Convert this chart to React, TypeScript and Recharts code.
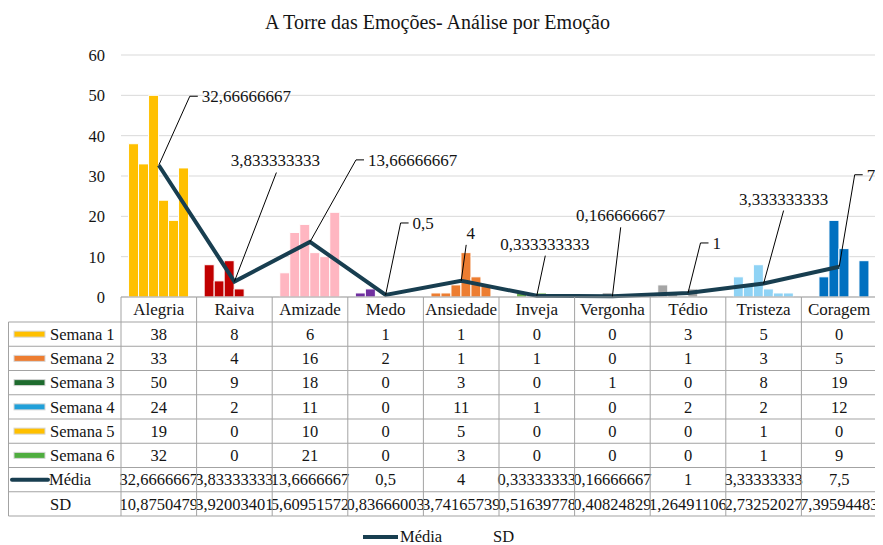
import React from 'react';
import {
  ComposedChart,
  Bar,
  Line,
  XAxis,
  YAxis,
  CartesianGrid,
  Cell,
  LabelList,
  Customized,
} from 'recharts';

// ---------- data ----------
const categories = ['Alegria', 'Raiva', 'Amizade', 'Medo', 'Ansiedade', 'Inveja', 'Vergonha', 'Tédio', 'Tristeza', 'Coragem'];
const semana1 = [38, 8, 6, 1, 1, 0, 0, 3, 5, 0];
const semana2 = [33, 4, 16, 2, 1, 1, 0, 1, 3, 5];
const semana3 = [50, 9, 18, 0, 3, 0, 1, 0, 8, 19];
const semana4 = [24, 2, 11, 0, 11, 1, 0, 2, 2, 12];
const semana5 = [19, 0, 10, 0, 5, 0, 0, 0, 1, 0];
const semana6 = [32, 0, 21, 0, 3, 0, 0, 0, 1, 9];
const media = [32.66666667, 3.833333333, 13.66666667, 0.5, 4, 0.333333333, 0.166666667, 1, 3.333333333, 7.5];
const sd = [10.8750479, 3.92003401, 5.60951572, 0.83666003, 3.74165739, 0.51639778, 0.40824829, 1.26491106, 2.73252027, 7.39594483];
const seriesNames = ['Semana 1', 'Semana 2', 'Semana 3', 'Semana 4', 'Semana 5', 'Semana 6'];
const yTicks = [0, 10, 20, 30, 40, 50, 60];
const titleText = 'A Torre das Emoções- Análise por Emoção';
const mediaName = 'Média';
const sdName = 'SD';

// ---------- styles ----------
const FONT = 'Liberation Serif, Times New Roman, DejaVu Serif, serif';
const TEXT = '#141414';
const BORDER = '#A3A3A3';
const categoryColors = ['#FFC000', '#C00000', '#FFB6C1', '#7030A0', '#ED7D31', '#6AB04C', '#7F7F7F', '#A5A5A5', '#8FD3F5', '#0070C0'];
const swatchColors = ['#FFC000', '#ED7D31', '#1E6B2E', '#21A0D9', '#FFC000', '#4FAD3F'];
const LINE_COLOR = '#183E50';
const txt = (size: number) => ({ fontFamily: FONT, fontSize: size, fill: TEXT });

// label layout: offsets of the label text from its point (px)
const labelLayout = [
  { side: true, tx: 43, ty: -69 },
  { side: false, tx: 41, ty: -121, ex: 1 },
  { side: true, tx: 58, ty: -82 },
  { side: true, tx: 27, ty: -72 },
  { side: false, tx: 9.5, ty: -48, ex: -4.5 },
  { side: false, tx: 8, ty: -52, ex: 0.5 },
  { side: false, tx: 8.3, ty: -81, ex: 0 },
  { side: true, tx: 24.5, ty: -50 },
  { side: false, tx: 20, ty: -85, ex: 0 },
  { side: true, tx: 27.5, ty: -92 },
];

const CHART_W = 875;
const CHART_H = 537;
const MARGIN = { top: 47, right: 6, left: 0, bottom: 28 };
const Y_AXIS_W = 113;
const X_AXIS_H = 220;
const PLOT_LEFT = MARGIN.left + Y_AXIS_W;
const PLOT_W = CHART_W - PLOT_LEFT - MARGIN.right;
const BAND = PLOT_W / categories.length;
const HEADER_H = 25;
const ROW_H = 24.25;

const seriesKeys = ['s1', 's2', 's3', 's4', 's5', 's6'];
const seriesArrays = [semana1, semana2, semana3, semana4, semana5, semana6];

const data = categories.map((cat, i) => ({
  cat,
  s1: semana1[i],
  s2: semana2[i],
  s3: semana3[i],
  s4: semana4[i],
  s5: semana5[i],
  s6: semana6[i],
  media: media[i],
  sd: sd[i],
}));

function fmt(v: number, chars: number): string {
  if (Number.isInteger(v)) return String(v);
  const intDigits = String(Math.floor(Math.abs(v))).length;
  const dec = Math.max(0, chars - intDigits - 1);
  let s = v.toFixed(dec);
  if (s.indexOf('.') >= 0) s = s.replace(/0+$/, '').replace(/\.$/, '');
  return s.replace('.', ',');
}

const renderMediaLabel = (props: any) => {
  const { x, y, value, index } = props;
  const L = labelLayout[index];
  if (!L || x == null || y == null) return null;
  const tx = x + L.tx;
  const ty = y + L.ty;
  const d = L.side
    ? `M${x},${y}L${tx - 12},${ty}L${tx - 4},${ty}`
    : `M${x},${y}L${tx + (L.ex || 0)},${ty + 12}`;
  return (
    <g>
      <path d={d} stroke="#000" strokeWidth={1} fill="none" />
      <text x={tx} y={ty} dy="0.35em" textAnchor={L.side ? 'start' : 'middle'} style={txt(17)}>
        {fmt(value, 11)}
      </text>
    </g>
  );
};

const TableColumn = (props: any) => {
  const { x, y, payload } = props;
  const i = payload && payload.index != null ? payload.index : props.index;
  const left = x - BAND / 2;
  const top = y;
  const values = [
    ...seriesArrays.map((arr) => String(arr[i])),
    fmt(media[i], 10),
    fmt(sd[i], 10),
  ];
  const rowsTop = top + HEADER_H;
  const bottom = rowsTop + ROW_H * values.length;
  const els: any[] = [];
  els.push(
    <text key="h" x={x} y={top + HEADER_H / 2} dy="0.35em" textAnchor="middle" style={txt(17)}>
      {payload.value}
    </text>
  );
  values.forEach((v, r) => {
    els.push(
      <text key={'v' + r} x={x} y={rowsTop + ROW_H * (r + 0.5)} dy="0.35em" textAnchor="middle" style={txt(16.5)}>
        {v}
      </text>
    );
  });
  els.push(<line key="bl" x1={left} x2={left} y1={top} y2={bottom} stroke={BORDER} strokeWidth={1} />);
  if (i === categories.length - 1) {
    els.push(<line key="br" x1={left + BAND} x2={left + BAND} y1={top} y2={bottom} stroke={BORDER} strokeWidth={1} />);
  }
  for (let r = 0; r <= values.length + 1; r++) {
    const yy = r === 0 ? top : rowsTop + ROW_H * (r - 1);
    els.push(<line key={'hl' + r} x1={left} x2={left + BAND} y1={yy} y2={yy} stroke={BORDER} strokeWidth={1} />);
  }

  if (i === 0) {
    const lx = 0.5;
    const rx = PLOT_LEFT;
    els.push(<line key="ll" x1={lx} x2={lx} y1={rowsTop} y2={bottom} stroke={BORDER} strokeWidth={1} />);
    for (let r = 0; r <= values.length; r++) {
      const yy = rowsTop + ROW_H * r;
      els.push(<line key={'lh' + r} x1={lx} x2={rx} y1={yy} y2={yy} stroke={BORDER} strokeWidth={1} />);
    }
    seriesNames.forEach((name, r) => {
      const cy = rowsTop + ROW_H * (r + 0.5);
      els.push(
        <rect key={'sw' + r} x={6} y={cy - 3} width={31} height={6} fill={swatchColors[r]} stroke="#D6D6D6" strokeWidth={1} />
      );
      els.push(
        <text key={'sn' + r} x={42} y={cy} dy="0.35em" style={txt(16.5)}>
          {name}
        </text>
      );
    });
    const my = rowsTop + ROW_H * 6.5;
    els.push(<line key="mline" x1={4} x2={40} y1={my} y2={my} stroke={LINE_COLOR} strokeWidth={4} strokeLinecap="round" />);
    els.push(
      <text key="mtext" x={41} y={my} dy="0.35em" style={txt(16.5)}>
        {mediaName}
      </text>
    );
    const sy = rowsTop + ROW_H * 7.5;
    els.push(
      <text key="sdtext" x={42} y={sy} dy="0.35em" style={txt(16.5)}>
        {sdName}
      </text>
    );
  }
  return <g>{els}</g>;
};

const Decorations = () => (
  <g>
    <text x={429.5} y={20.5} textAnchor="middle" style={txt(20)}>
      {titleText}
    </text>
    <line x1={355} x2={390} y1={529} y2={529} stroke={LINE_COLOR} strokeWidth={4} />
    <text x={392} y={528} dy="0.35em" style={txt(16.5)}>
      {mediaName}
    </text>
    <text x={485} y={528} dy="0.35em" style={txt(16.5)}>
      {sdName}
    </text>
  </g>
);

export default function App() {
  return (
    <div style={{ width: CHART_W, height: CHART_H, background: '#fff' }}>
      <ComposedChart
        width={CHART_W}
        height={CHART_H}
        data={data}
        margin={MARGIN}
        barCategoryGap="10%"
        barGap={0}
      >
        <CartesianGrid vertical={false} stroke="#D9D9D9" strokeWidth={1} />
        <XAxis
          dataKey="cat"
          height={X_AXIS_H}
          tickSize={0}
          tickMargin={0}
          tickLine={false}
          axisLine={false}
          interval={0}
          tick={<TableColumn />}
        />
        <YAxis
          width={Y_AXIS_W}
          domain={[0, 60]}
          ticks={yTicks}
          tickSize={0}
          tickMargin={16}
          tickLine={false}
          axisLine={false}
          tick={{ style: txt(16.5) } as any}
        />
        {seriesKeys.map((k, si) => (
          <Bar key={k} dataKey={k} name={seriesNames[si]} stroke="#FFFFFF" strokeWidth={1} isAnimationActive={false}>
            {data.map((d, i) => (
              <Cell key={i} fill={categoryColors[i]} />
            ))}
          </Bar>
        ))}
        <Line dataKey="sd" name={sdName} stroke="none" dot={false} activeDot={false} isAnimationActive={false} />
        <Line
          dataKey="media"
          name={mediaName}
          type="linear"
          stroke={LINE_COLOR}
          strokeWidth={4}
          dot={false}
          activeDot={false}
          isAnimationActive={false}
        >
          <LabelList dataKey="media" content={renderMediaLabel} />
        </Line>
        <Customized component={Decorations} />
      </ComposedChart>
    </div>
  );
}
